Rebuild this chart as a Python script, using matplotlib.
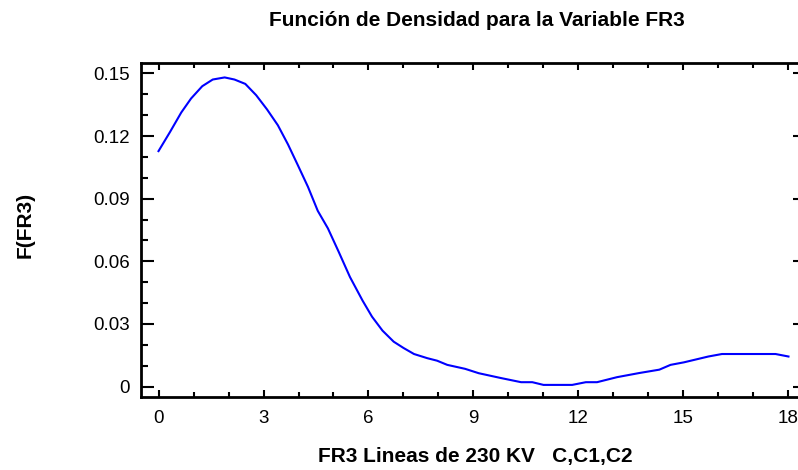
import numpy as np
import matplotlib.pyplot as plt
from matplotlib.ticker import MultipleLocator, FuncFormatter

plt.rcParams['font.family'] = ['Liberation Sans', 'DejaVu Sans']

# density curve of FR3
fr3_x = [0, 0.33, 0.65, 0.93, 1.25, 1.55, 1.89, 2.17, 2.48, 2.79, 3.1, 3.41,
         3.7, 3.98, 4.27, 4.55, 4.84, 5.15, 5.47, 5.83, 6.1, 6.4, 6.72, 7.0,
         7.3, 7.68, 7.96, 8.25, 8.76, 9.15, 9.78, 10.36, 10.68, 11.0, 11.82,
         12.21, 12.53, 13.1, 13.74, 14.31, 14.63, 15.01, 15.71, 16.1, 17.63, 18.0]
fr3_y = [0.1128, 0.1220, 0.1313, 0.1380, 0.1439, 0.1471, 0.1481, 0.1471, 0.1450,
         0.1396, 0.1328, 0.1252, 0.1160, 0.1061, 0.0957, 0.0842, 0.0758, 0.0645,
         0.0525, 0.0412, 0.0335, 0.0268, 0.0215, 0.0185, 0.0156, 0.0136, 0.0124,
         0.0104, 0.0085, 0.0064, 0.0041, 0.0021, 0.0021, 0.0008, 0.0008, 0.0021,
         0.0021, 0.0045, 0.0065, 0.0081, 0.0104, 0.0116, 0.0144, 0.0156, 0.0156,
         0.0144]

title = 'Función de Densidad para la Variable FR3'
xlabel = 'FR3 Lineas de 230 KV   C,C1,C2'
ylabel = 'F(FR3)'

fig = plt.figure(figsize=(7.98, 4.70), dpi=100)
ax = fig.add_axes([0.1767, 0.1553, 0.8333, 0.7106])

ax.plot(fr3_x, fr3_y, color='#0000ff', lw=1.5)

ax.set_xlim(-0.5, 18.5)
ax.set_ylim(-0.005, 0.155)
ax.xaxis.set_major_locator(MultipleLocator(3))
ax.xaxis.set_minor_locator(MultipleLocator(1))
ax.yaxis.set_major_locator(MultipleLocator(0.03))
ax.yaxis.set_minor_locator(MultipleLocator(0.01))
ax.yaxis.set_major_formatter(FuncFormatter(lambda v, p: '0' if abs(v) < 1e-9 else f'{v:.2f}'))

for s in ax.spines.values():
    s.set_linewidth(2)
ax.tick_params(which='both', direction='in', top=True, right=True,
               width=1.5, labelsize=13.5, colors='black')
ax.tick_params(axis='x', which='major', length=5, pad=9)
ax.tick_params(axis='x', which='minor', length=3.5)
ax.tick_params(axis='y', which='major', length=9.5, pad=8)
ax.tick_params(axis='y', which='minor', length=5)

fig.text(0.598, 0.957, title, ha='center', va='center', fontsize=15, fontweight='bold')
fig.text(0.596, 0.028, xlabel, ha='center', va='center', fontsize=15, fontweight='bold')
fig.text(0.031, 0.521, ylabel, ha='center', va='center', rotation=90,
         fontsize=15, fontweight='bold')

fig.savefig('out.png', dpi=100)
